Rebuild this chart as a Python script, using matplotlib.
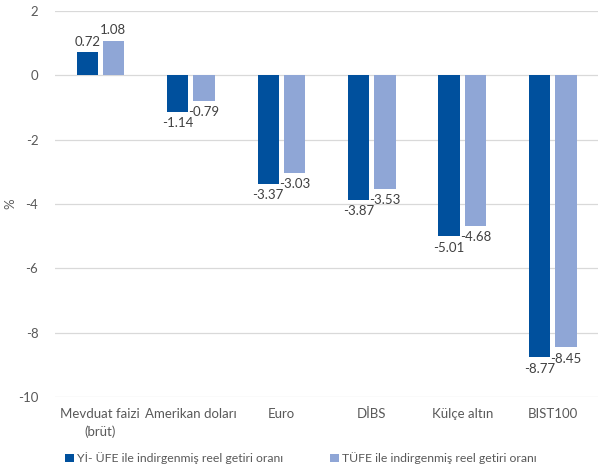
import matplotlib
matplotlib.use("Agg")
import matplotlib.pyplot as plt
import numpy as np

plt.rcParams['font.family'] = ['Lato', 'DejaVu Sans']
plt.rcParams['axes.unicode_minus'] = False

# data
kategoriler = ["Mevduat faizi\n(brüt)", "Amerikan doları", "Euro", "DİBS", "Külçe altın", "BIST100"]
yi_ufe = [0.72, -1.14, -3.37, -3.87, -5.01, -8.77]
tufe = [1.08, -0.79, -3.03, -3.53, -4.68, -8.45]

koyu = "#00509d"
acik = "#8fa6d6"
gri = "#595959"

fig = plt.figure(figsize=(5.98, 4.74), dpi=100)
ax = fig.add_axes([0.092, 0.1624, 0.908, 0.8146])

x = np.arange(len(kategoriler))
w = 0.235
b1 = ax.bar(x - 0.145, yi_ufe, w, color=koyu, label="Yİ- ÜFE ile indirgenmiş reel getiri oranı", zorder=3)
b2 = ax.bar(x + 0.145, tufe, w, color=acik, label="TÜFE ile indirgenmiş reel getiri oranı", zorder=3)

for bars, vals in ((b1, yi_ufe), (b2, tufe)):
    for r, v in zip(bars, vals):
        cx = r.get_x() + r.get_width() / 2
        if v >= 0:
            ax.annotate(f"{v:.2f}", (cx, v), xytext=(0, 3), textcoords="offset points",
                        ha="center", va="bottom", fontsize=9.5, color="#404040")
        else:
            ax.annotate(f"{v:.2f}", (cx, v), xytext=(0, -4), textcoords="offset points",
                        ha="center", va="top", fontsize=9.5, color="#404040")

ax.set_ylim(-10, 2)
ax.set_xlim(-0.5, len(kategoriler) - 0.5)
ax.set_yticks(range(-10, 3, 2))
ax.set_xticks(x)
ax.set_xticklabels(kategoriler, linespacing=1.55, fontsize=9)
ax.yaxis.grid(True, color="#d9d9d9", linewidth=0.9, zorder=0)
for s in ax.spines.values():
    s.set_visible(False)
ax.tick_params(axis="both", length=0, labelsize=9.5, labelcolor=gri)
ax.tick_params(axis="x", pad=8)
ax.tick_params(axis="y", pad=12)
ax.set_ylabel("%", fontsize=9.5, color=gri, labelpad=12)
ax.yaxis.set_label_coords(-0.072, 0.5)

ax.legend(loc="upper center", bbox_to_anchor=(0.453, -0.115), ncol=2, frameon=False,
          fontsize=8.8, labelcolor=gri, handlelength=0.7, handleheight=0.7,
          handletextpad=0.3, columnspacing=3.8)

fig.savefig("out.png", dpi=100)
